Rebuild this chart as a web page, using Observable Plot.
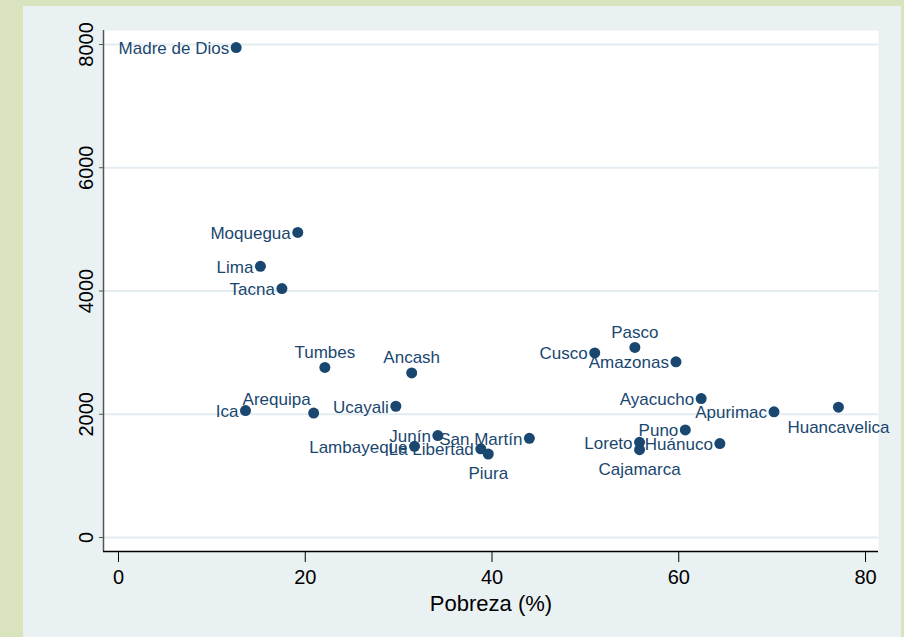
<!DOCTYPE html>
<html><head><meta charset="utf-8">
<script src="https://cdn.jsdelivr.net/npm/d3@7"></script>
<script src="https://cdn.jsdelivr.net/npm/@observablehq/plot@0.6"></script>
<style>
html,body{margin:0;padding:0;background:#d9e4bf;width:904px;height:637px;overflow:hidden;}
#wrap{position:absolute;left:23px;top:6px;width:878px;height:631px;background:#eaf1f3;}
</style></head><body><div id="wrap"></div>
<script>
const regions = ["Madre de Dios","Moquegua","Lima","Tacna","Tumbes","Ancash","Ica","Arequipa","Ucayali","Junín","Lambayeque","La Libertad","Piura","San Martín","Cusco","Pasco","Amazonas","Ayacucho","Apurimac","Huancavelica","Puno","Loreto","Cajamarca","Huánuco"];
const poverty = [12.6,19.2,15.2,17.5,22.1,31.4,13.6,20.9,29.7,34.2,31.7,38.8,39.6,44.0,51.0,55.3,59.7,62.4,70.2,77.1,60.7,55.8,55.8,64.4];
const value = [7950,4950,4400,4040,2760,2670,2060,2020,2130,1655,1480,1440,1355,1610,2995,3085,2850,2255,2040,2115,1745,1545,1425,1525];
const xTicks = [0,20,40,60,80];
const yTicks = [0,2000,4000,6000,8000];
const xLabel = "Pobreza (%)";
// label clock positions (Stata style); default 9 o'clock
const labelClock = {"Tumbes":12,"Ancash":12,"Pasco":12,"Piura":6,"Cajamarca":6,"Huancavelica":6,"Arequipa":11};

const data = regions.map((r,i)=>({region:r, pobreza:poverty[i], valor:value[i], clock: labelClock[r] ?? 9}));
const ink = "#1a476f";
const font = "'Liberation Sans', Arial, Helvetica, sans-serif";
const xDom = [-1.606, 81.39];
const yDom = [-227, 8227];

const chart = Plot.plot({
  width: 878, height: 631,
  marginLeft: 80, marginRight: 23, marginTop: 24, marginBottom: 86,
  style: {background: "transparent", fontFamily: font, overflow: "visible", color: "#000"},
  x: {domain: xDom},
  y: {domain: yDom},
  marks: [
    Plot.frame({fill: "white", stroke: null}),
    Plot.gridY(yTicks, {stroke: "#e3ecf0", strokeOpacity: 1, strokeWidth: 2}),
    Plot.ruleX([xDom[0]], {stroke: "#555", strokeWidth: 1.5}),
    Plot.ruleY([yDom[0]], {stroke: "#000", strokeWidth: 1.5}),
    Plot.axisX(xTicks, {tickSize: 11, tickPadding: 7, fontSize: 20, stroke: "#000", label: null}),
    Plot.text([xLabel], {frameAnchor: "bottom", dy: 52, lineAnchor: "middle", fontSize: 22, fill: "#000"}),
    Plot.axisY(yTicks, {tickSize: 4, tickFormat: () => "", label: null, stroke: "#555"}),
    Plot.text(yTicks, {y: d => d, text: d => String(d), frameAnchor: "left", dx: -17, rotate: -90, textAnchor: "middle", lineAnchor: "middle", fontSize: 20, fill: "#000"}),
    Plot.dot(data, {x: "pobreza", y: "valor", r: 5.5, fill: ink, stroke: null}),
    Plot.text(data.filter(d => d.clock === 9), {x: "pobreza", y: "valor", text: "region", textAnchor: "end", dx: -7, dy: 1, fill: ink, fontSize: 17}),
    Plot.text(data.filter(d => d.clock === 12), {x: "pobreza", y: "valor", text: "region", textAnchor: "middle", dy: -15, fill: ink, fontSize: 17}),
    Plot.text(data.filter(d => d.clock === 6), {x: "pobreza", y: "valor", text: "region", textAnchor: "middle", dy: 20, fill: ink, fontSize: 17}),
    Plot.text(data.filter(d => d.clock === 11), {x: "pobreza", y: "valor", text: "region", textAnchor: "end", dx: -3, dy: -13, fill: ink, fontSize: 17})
  ]
});
document.getElementById("wrap").appendChild(chart);
</script></body></html>
